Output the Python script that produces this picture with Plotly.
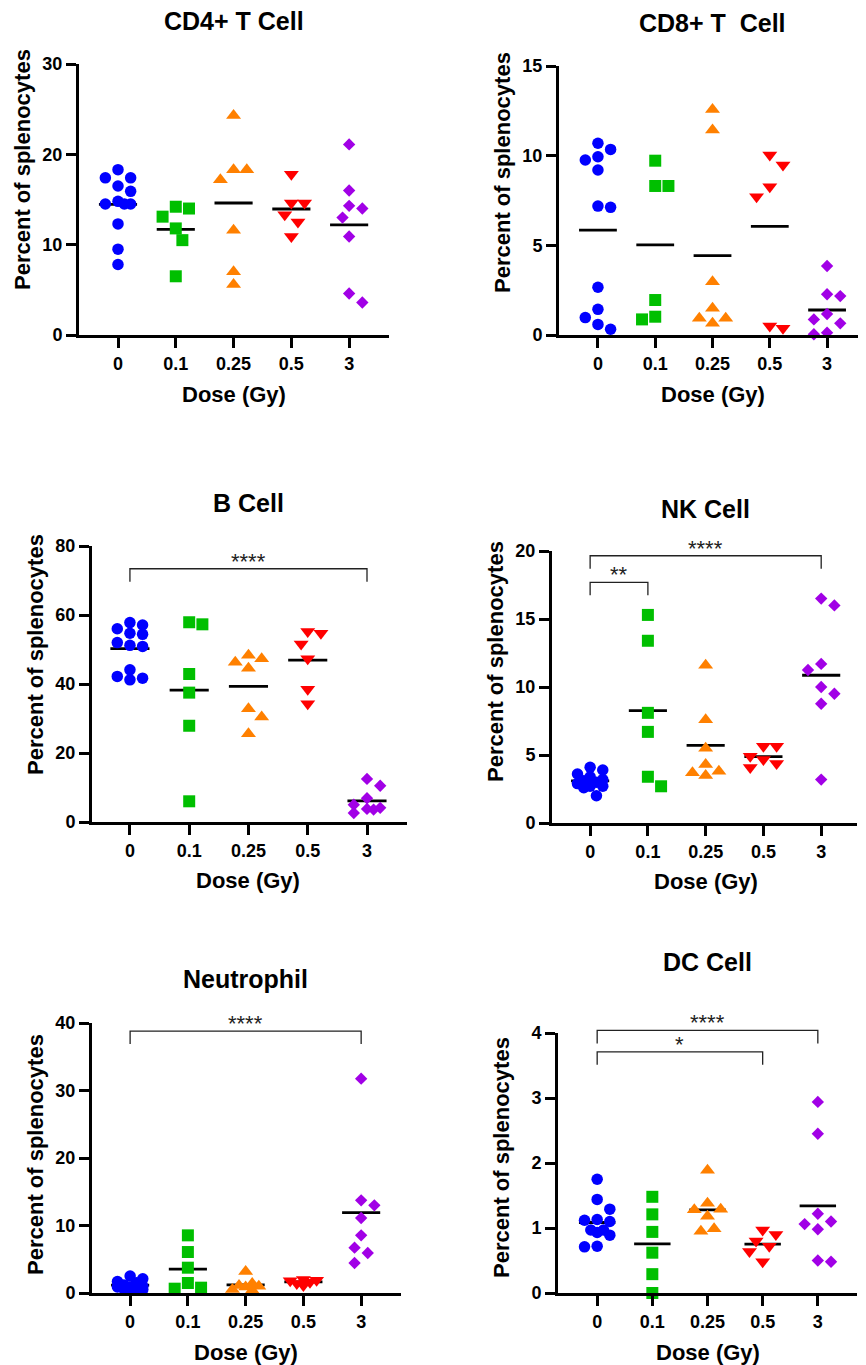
import plotly.graph_objects as go

W, H = 866, 1365
OFF = 8  # the page body adds an 8px margin; shift figure coordinates to compensate
FONT = "Arial, 'Liberation Sans', Helvetica, sans-serif"

# ---------------- data ----------------
doses = ["0", "0.1", "0.25", "0.5", "3"]
titles = ["CD4+ T Cell", "CD8+ T  Cell", "B Cell", "NK Cell", "Neutrophil", "DC Cell"]
y_title = "Percent of splenocytes"
x_title = "Dose (Gy)"

cd4 = [[18.3, 17.4, 17.4, 16.5, 15.9, 14.8, 14.5, 14.5, 14.5, 12.3, 9.5, 7.8],
       [14.2, 14.0, 13.1, 11.8, 10.5, 6.5],
       [24.3, 18.3, 18.3, 17.2, 11.6, 7.0, 5.6],
       [17.8, 14.6, 14.6, 13.3, 12.5, 10.9],
       [21.1, 16.0, 14.3, 14.0, 13.0, 10.9, 4.6, 3.6]]
cd8 = [[10.69, 10.35, 9.94, 9.76, 9.20, 7.19, 7.12, 2.66, 1.43, 0.97, 0.59, 0.32],
       [9.72, 8.31, 8.31, 1.95, 1.02, 0.87],
       [12.58, 11.43, 2.97, 1.49, 0.93, 0.93, 0.65],
       [10.04, 9.48, 8.27, 7.71, 0.50, 0.37],
       [3.85, 2.27, 2.17, 1.17, 0.87, 0.65, 0.13, 0.04]]
bcell = [[57.8, 57.1, 56.0, 54.7, 54.4, 52.0, 51.2, 50.9, 44.1, 42.2, 41.7, 41.2],
         [57.9, 57.3, 42.9, 37.5, 27.9, 6.0],
         [48.3, 47.3, 46.3, 44.6, 32.8, 30.4, 25.6],
         [55.2, 54.7, 51.6, 47.3, 38.5, 34.3],
         [12.5, 10.5, 6.9, 5.0, 4.1, 3.8, 3.6, 2.6]]
nk = [[4.1, 3.9, 3.6, 3.4, 3.2, 3.1, 3.0, 2.9, 2.7, 2.7, 2.6, 2.0],
      [15.3, 13.4, 8.1, 6.7, 3.4, 2.7],
      [11.6, 7.6, 5.5, 4.3, 3.8, 3.7, 3.5],
      [5.65, 5.65, 4.9, 4.67, 4.37, 4.08],
      [16.5, 16.0, 11.7, 11.25, 10.0, 9.5, 8.77, 3.19]]
neut = [[2.5, 2.1, 1.7, 1.5, 1.2, 1.0, 0.9, 0.9, 0.8, 0.6, 0.5, 0.4],
        [8.54, 6.07, 3.75, 1.48, 0.79, 0.64],
        [3.2, 1.4, 1.1, 1.0, 0.9, 0.5, 0.4],
        [2.0, 1.9, 1.8, 1.6, 1.4, 1.1],
        [31.75, 13.73, 12.99, 11.11, 8.54, 6.72, 5.93, 4.44]]
dc = [[1.75, 1.44, 1.29, 1.13, 1.12, 1.10, 0.97, 0.97, 0.93, 0.89, 0.72, 0.71],
      [1.48, 1.21, 0.94, 0.62, 0.29, 0.0],
      [1.89, 1.38, 1.29, 1.28, 1.18, 0.99, 0.95],
      [0.97, 0.90, 0.80, 0.72, 0.64, 0.48],
      [2.94, 2.45, 1.22, 1.10, 1.06, 0.98, 0.50, 0.48]]

y_max = [30, 15, 80, 20, 40, 4]
y_dtick = [10, 5, 20, 5, 10, 1]

# significance brackets: (group a, group b, bracket height, label)
sig_cd4 = []
sig_cd8 = []
sig_bcell = [(0, 4, 73.4, "****")]
sig_nk = [(0, 4, 19.65, "****"), (0, 1, 17.7, "**")]
sig_neut = [(0, 4, 38.8, "****")]
sig_dc = [(0, 4, 4.04, "****"), (0, 3, 3.71, "*")]

# ---------------- style / layout ----------------
colors = ["#0000FF", "#00BF00", "#FF8000", "#FF0000", "#A100E6"]
symbols = ["circle", "square", "triangle-up", "triangle-down", "diamond"]
msizes = [11.5, 12, 13, 13, 9.5]
footprint = [11.5, 12, 12, 12, 12]   # visual extent of each symbol in px

panels = [
    dict(vals=cd4, sig=sig_cd4, box=(79, 64, 389, 335), xr=(-0.675, 4.69), title_y=21, ytitle_y=170),
    dict(vals=cd8, sig=sig_cd8, box=(559, 66, 858, 335), xr=(-0.68, 4.54), title_y=23, ytitle_y=172),
    dict(vals=bcell, sig=sig_bcell, box=(92, 546, 407, 822), xr=(-0.64, 4.675), title_y=503, ytitle_y=655),
    dict(vals=nk, sig=sig_nk, box=(552, 551, 857, 823), xr=(-0.66, 4.62), title_y=509, ytitle_y=662),
    dict(vals=neut, sig=sig_neut, box=(92, 1023, 401, 1293), xr=(-0.66, 4.69), title_y=979, ytitle_y=1155),
    dict(vals=dc, sig=sig_dc, box=(558, 1033, 857, 1293), xr=(-0.71, 4.71), title_y=962, ytitle_y=1158),
]


def px_x(x):
    return (x - OFF) / W


def px_y(y):
    return 1 - (y - OFF) / H


def swarm(vals, ypx, xpx, size):
    """beeswarm: horizontal offsets (category units) limiting overlap within +-0.3 category"""
    order = sorted(range(len(vals)), key=lambda i: -vals[i])
    step = 0.55 * size
    mind = 1.05 * size
    limit = 0.3 * xpx
    cands = [0.0]
    j = 1
    while j * step <= limit + 1e-9:
        cands += [j * step, -j * step]
        j += 1
    placed = []
    offs = [0.0] * len(vals)
    for i in order:
        y = vals[i] * ypx
        best, best_score = None, None
        for c in cands:
            dmin = min([((c - px) ** 2 + (y - py) ** 2) ** 0.5 for px, py in placed] or [1e9])
            side = sum(1 for px, _ in placed if px * c > 0)
            if dmin >= mind:
                score = (0, abs(c), side)
            else:
                score = (1, -dmin, abs(c))
            if best_score is None or score < best_score:
                best, best_score = c, score
        placed.append((best, y))
        offs[i] = best / xpx
    return offs


fig = go.Figure()
layout = dict(width=W, height=H, margin=dict(l=0, r=0, t=0, b=0, autoexpand=False),
              paper_bgcolor="white", plot_bgcolor="white", showlegend=False,
              font=dict(family=FONT, color="black"))
annotations = []
shapes = []

for p, (panel, title, ymax, dtick) in enumerate(zip(panels, titles, y_max, y_dtick)):
    n = p + 1
    xa = "x" if n == 1 else f"x{n}"
    ya = "y" if n == 1 else f"y{n}"
    x0, yt, x1, yb = panel["box"]
    xr0, xr1 = panel["xr"]
    xpx = (x1 - x0) / (xr1 - xr0)
    ypx = (yb - yt) / ymax

    # mean lines (behind markers)
    for g, vals in enumerate(panel["vals"]):
        m = sum(vals) / len(vals)
        fig.add_trace(go.Scatter(x=[g - 0.33, g + 0.33], y=[m, m], mode="lines",
                                 line=dict(color="black", width=2.8), xaxis=xa, yaxis=ya,
                                 hoverinfo="skip"))
    # points
    for g, vals in enumerate(panel["vals"]):
        offs = swarm(vals, ypx, xpx, footprint[g])
        fig.add_trace(go.Scatter(x=[g + o for o in offs], y=vals, mode="markers",
                                 marker=dict(symbol=symbols[g], size=msizes[g], color=colors[g],
                                             line=dict(width=0)),
                                 cliponaxis=False, xaxis=xa, yaxis=ya))

    yticks = list(range(0, ymax + 1, dtick))
    axis_common = dict(showline=True, linecolor="black", linewidth=3, ticks="outside",
                       ticklen=10, tickwidth=3, tickcolor="black", showgrid=False,
                       zeroline=False, fixedrange=True,
                       tickfont=dict(family=FONT, size=18, color="black"))
    layout["xaxis" if n == 1 else f"xaxis{n}"] = dict(
        axis_common, domain=[px_x(x0), px_x(x1)], range=[xr0, xr1], anchor=ya,
        tickmode="array", tickvals=list(range(len(doses))),
        ticktext=[f"<b>{d}</b>" for d in doses])
    layout["yaxis" if n == 1 else f"yaxis{n}"] = dict(
        axis_common, domain=[px_y(yb), px_y(yt)], range=[0, ymax], anchor=xa,
        tickmode="array", tickvals=yticks, ticktext=[f"<b>{v}</b>" for v in yticks])

    # titles
    xc = x0 + (2 - xr0) * xpx
    annotations.append(dict(text=f"<b>{title}</b>", x=px_x(xc), y=px_y(panel["title_y"]),
                            xref="paper", yref="paper", showarrow=False, xanchor="center",
                            yanchor="middle", font=dict(family=FONT, size=25, color="black")))
    annotations.append(dict(text=f"<b>{x_title}</b>", x=px_x(xc), y=px_y(yb + 59),
                            xref="paper", yref="paper", showarrow=False, xanchor="center",
                            yanchor="middle", font=dict(family=FONT, size=22, color="black")))
    annotations.append(dict(text=f"<b>{y_title}</b>", x=px_x(x0 - 57), y=px_y(panel["ytitle_y"]),
                            xref="paper", yref="paper", showarrow=False, xanchor="center",
                            yanchor="middle", textangle=-90,
                            font=dict(family=FONT, size=22, color="black")))

    # significance brackets
    leg = 13
    for a, b, yv, lab in panel["sig"]:
        py = yb - yv * ypx
        ytop = px_y(py)
        ybot = px_y(py + leg)
        shapes.append(dict(type="path", xref=xa, yref="paper",
                           path=f"M {a},{ybot} L {a},{ytop} L {b},{ytop} L {b},{ybot}",
                           line=dict(color="#222222", width=1.3)))
        annotations.append(dict(text=lab, x=(a + b) / 2, y=ytop, xref=xa, yref="paper",
                                showarrow=False, xanchor="center", yanchor="bottom", yshift=-7,
                                font=dict(family=FONT, size=22, color="#222222")))

layout["annotations"] = annotations
layout["shapes"] = shapes
fig.update_layout(**layout)
fig.write_html("out.html")
